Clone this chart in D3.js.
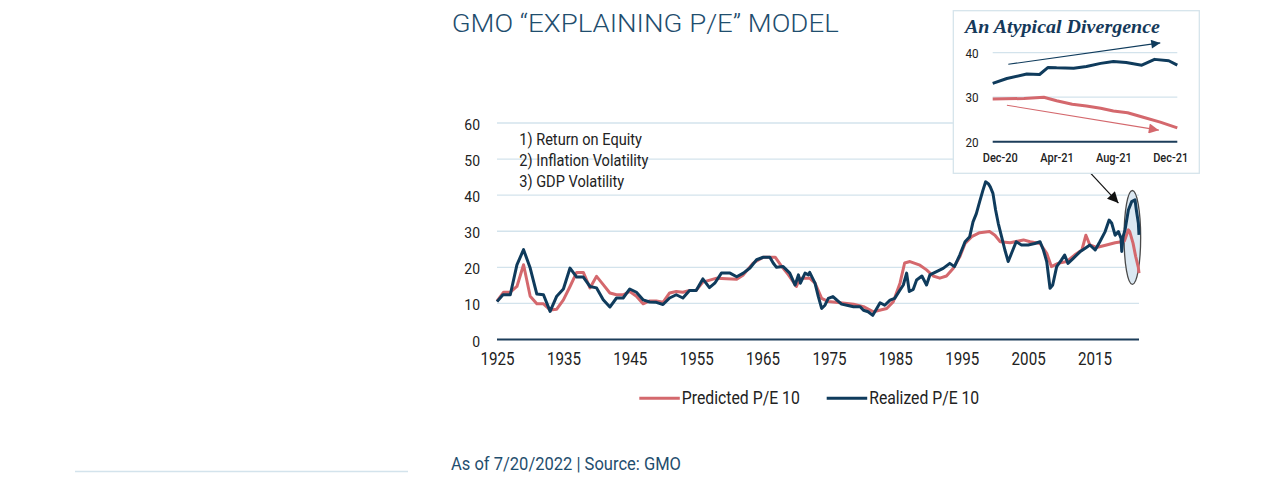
<!DOCTYPE html>
<html>
<head>
<meta charset="utf-8">
<script src="https://cdn.jsdelivr.net/npm/d3@7"></script>
<style>
  body { margin: 0; background: #fff; }
  text { font-family: Roboto, "Noto Sans", sans-serif; }
</style>
</head>
<body>
<svg id="chart"></svg>
<script>
// ---- data ----
let realYears = [1925.0, 1925.9, 1927.0, 1928.0, 1929.0, 1930.0, 1931.0, 1932.0, 1933.0, 1934.0,
  1935.0, 1936.0, 1937.0, 1938.0, 1939.0, 1940.0, 1941.0, 1942.0, 1943.0, 1944.0,
  1945.0, 1946.0, 1947.0, 1948.0, 1949.0, 1950.0, 1951.0, 1952.0, 1953.0, 1954.0,
  1955.0, 1956.0, 1957.0, 1957.8, 1958.8, 1960.1, 1961.1, 1962.1, 1963.1, 1964.1,
  1965.1, 1966.1, 1966.6, 1967.1, 1968.1, 1969.1, 1969.9, 1970.4, 1970.7, 1971.4,
  1971.9, 1972.1, 1972.9, 1973.4, 1973.9, 1974.4, 1974.9, 1975.6, 1976.2, 1976.9,
  1977.7, 1978.7, 1979.7, 1980.2, 1980.9, 1981.6, 1982.2, 1982.7, 1983.4, 1984.2,
  1984.9, 1985.7, 1986.2, 1986.7, 1987.1, 1987.7, 1988.2, 1989.0, 1989.7, 1990.2,
  1991.2, 1992.2, 1993.2, 1993.9, 1994.7, 1995.5, 1996.2, 1996.7, 1997.2, 1997.7,
  1998.2, 1998.6, 1999.0, 1999.3, 1999.7, 2000.1, 2000.5, 2001.0, 2001.5, 2002.0,
  2002.5, 2003.2, 2004.0, 2005.0, 2006.0, 2006.8, 2007.3, 2007.8, 2008.3, 2008.7,
  2009.3, 2010.0, 2010.5, 2011.0, 2011.8, 2012.8, 2013.6, 2014.3, 2015.1, 2015.8,
  2016.6, 2017.2, 2017.6, 2018.1, 2018.6, 2019.0, 2019.1, 2019.3, 2019.6, 2020.1,
  2020.6, 2021.1, 2021.3, 2021.6, 2021.7];
let realValues = [10.5, 12.4, 12.4, 20.7, 24.9, 19.8, 12.6, 12.4, 7.8, 12.0,
  14.0, 19.8, 17.3, 17.3, 14.7, 14.3, 11.0, 9.0, 11.5, 11.5,
  14.0, 13.1, 11.0, 10.4, 10.3, 9.7, 11.5, 12.4, 11.5, 13.6,
  13.6, 16.8, 14.4, 15.6, 18.4, 18.4, 17.4, 18.4, 19.8, 22.1,
  22.8, 22.8, 21.2, 20.0, 20.2, 18.4, 15.1, 17.9, 15.6, 18.4,
  17.9, 18.6, 15.6, 11.9, 8.6, 9.5, 11.4, 11.9, 10.9, 9.8,
  9.5, 9.1, 9.1, 8.1, 7.7, 6.7, 8.6, 10.2, 9.5, 10.9,
  11.4, 13.7, 15.1, 18.4, 13.3, 13.9, 16.5, 17.6, 15.1, 17.9,
  18.8, 19.7, 21.1, 20.2, 23.4, 27.1, 28.5, 32.6, 34.9, 38.2,
  41.4, 43.7, 43.2, 42.3, 40.5, 35.9, 32.2, 28.5, 24.8, 21.6,
  23.9, 27.1, 26.2, 26.2, 26.6, 27.1, 24.8, 21.6, 14.2, 15.1,
  20.2, 22.0, 23.4, 21.1, 22.5, 24.3, 25.3, 26.2, 24.8, 27.1,
  29.9, 33.1, 32.2, 28.9, 29.9, 28.0, 24.4, 28.5, 30.4, 35.9,
  38.2, 38.7, 35.9, 32.3, 29.0];

let predYears = [1925.0, 1926.0, 1927.0, 1928.0, 1929.0, 1930.0, 1931.0, 1932.0, 1933.0, 1934.0,
  1935.0, 1936.0, 1937.0, 1938.0, 1939.0, 1940.0, 1941.0, 1942.0, 1943.0, 1944.0,
  1945.0, 1946.0, 1947.0, 1948.0, 1949.0, 1950.0, 1951.0, 1952.0, 1953.0, 1954.0,
  1955.0, 1956.0, 1958.1, 1961.1, 1962.1, 1963.6, 1965.1, 1966.9, 1967.9, 1968.9,
  1970.1, 1970.6, 1972.1, 1972.9, 1973.9, 1974.9, 1976.7, 1978.7, 1980.2, 1981.7,
  1983.7, 1984.7, 1985.7, 1986.4, 1987.2, 1988.7, 1989.7, 1990.7, 1991.7, 1992.7,
  1993.7, 1994.7, 1995.5, 1996.5, 1997.7, 1999.2, 2000.0, 2000.8, 2002.3, 2004.3,
  2005.3, 2006.8, 2007.8, 2008.5, 2009.5, 2010.8, 2012.0, 2013.1, 2013.7, 2014.3,
  2015.3, 2016.8, 2018.1, 2019.1, 2019.5, 2020.1, 2020.3, 2020.8, 2021.2, 2021.6,
  2021.7];
let predValues = [10.6, 13.1, 13.1, 14.7, 20.7, 12.0, 9.9, 9.9, 8.2, 8.4,
  11.0, 14.7, 18.6, 18.6, 14.3, 17.5, 15.2, 12.9, 12.4, 12.4,
  13.3, 12.0, 9.9, 10.7, 10.7, 10.3, 12.9, 13.3, 13.1, 13.6,
  13.6, 15.9, 17.0, 16.7, 17.9, 21.2, 22.8, 22.8, 20.2, 17.9,
  14.7, 17.0, 17.0, 15.6, 11.4, 10.5, 10.2, 9.8, 9.1, 7.7,
  8.6, 10.5, 15.6, 21.2, 21.6, 20.6, 19.3, 17.6, 17.0, 17.6,
  19.7, 22.9, 26.6, 28.5, 29.6, 29.9, 28.9, 27.1, 26.8, 27.6,
  27.1, 26.6, 23.9, 20.2, 21.1, 21.6, 23.4, 24.8, 28.9, 26.2,
  25.5, 26.2, 26.8, 27.1, 27.3, 30.4, 29.9, 26.7, 23.0, 20.0,
  18.4];

let yearTicks = [1925, 1935, 1945, 1955, 1965, 1975, 1985, 1995, 2005, 2015];
let valueTicks = [0, 10, 20, 30, 40, 50, 60];
let drivers = ["1) Return on Equity", "2) Inflation Volatility", "3) GDP Volatility"];
let seriesNames = ["Predicted P/E 10", "Realized P/E 10"];

// inset: months from Dec-20 (0) to Dec-21 (12)
let insetRealMonths = [-0.5, 0.5, 1.9, 2.8, 3.4, 4.0, 5.2, 6.1, 7.1, 8.0, 8.9, 10.0, 10.9, 11.9, 12.5];
let insetRealValues = [33.1, 34.2, 35.2, 35.1, 36.7, 36.6, 36.5, 36.9, 37.6, 38.0, 37.8, 37.2, 38.5, 38.2, 37.2];
let insetPredMonths = [-0.5, 1.7, 3.1, 4.0, 5.1, 6.1, 7.1, 8.0, 9.0, 10.1, 11.3, 12.5];
let insetPredValues = [29.6, 29.7, 30.0, 29.2, 28.4, 28.0, 27.5, 26.9, 26.5, 25.5, 24.4, 23.1];
let insetTicks = [0, 4, 8, 12];
let insetTickLabels = ["Dec-20", "Apr-21", "Aug-21", "Dec-21"];
let insetValueTicks = [20, 30, 40];

// ---- look ----
let width = 1275;
let height = 486;
let navy = "#0f3b5c";
let red = "#d4686d";
let grid = "#d3e3ec";
let blueText = "#1f4e6e";

let svg = d3.select("#chart").attr("width", width).attr("height", height);
svg.append("rect").attr("width", width).attr("height", height).attr("fill", "#fff");

// squeeze text so Roboto reads like the condensed face of the original
let condense = (sel, k) => {
  sel.each(function () {
    let w = this.getComputedTextLength();
    d3.select(this).attr("textLength", w * k).attr("lengthAdjust", "spacingAndGlyphs");
  });
};
let fitTo = (sel, w) => sel.attr("textLength", w).attr("lengthAdjust", "spacingAndGlyphs");

let defs = svg.append("defs");
let addHead = (id, color, len, wid) => {
  defs.append("marker")
    .attr("id", id)
    .attr("markerUnits", "userSpaceOnUse")
    .attr("viewBox", "0 0 10 10")
    .attr("refX", 10).attr("refY", 5)
    .attr("markerWidth", len).attr("markerHeight", wid)
    .attr("orient", "auto")
    .append("path").attr("d", "M0,0 L10,5 L0,10 Z").attr("fill", color);
};
addHead("headBlack", "#111", 13, 11);
addHead("headNavy", navy, 12, 9);
addHead("headRed", red, 14, 10);

// ---- main chart ----
let xScale = d3.scaleLinear().domain([1925, 2021.7]).range([497, 1139]);
let yScale = d3.scaleLinear().domain([0, 60]).range([339.5, 123]);

svg.append("text")
  .attr("x", 451.7).attr("y", 31.7)
  .attr("font-size", 26.5).attr("font-weight", 300)
  .attr("fill", blueText)
  .text("GMO \u201cEXPLAINING P/E\u201d MODEL")
  .call(fitTo, 387);

svg.append("g")
  .selectAll("line")
  .data(valueTicks.filter(d => d > 0))
  .enter()
  .append("line")
  .attr("x1", xScale(1925)).attr("x2", xScale(2021.7))
  .attr("y1", d => yScale(d)).attr("y2", d => yScale(d))
  .attr("stroke", grid).attr("stroke-width", 1.3);

let yAxis = d3.axisLeft(yScale).tickValues(valueTicks).tickSize(0).tickPadding(17);
let yg = svg.append("g").attr("transform", "translate(" + xScale(1925) + ",0)").call(yAxis);
yg.select(".domain").remove();
yg.selectAll("text").attr("font-size", 15.5).attr("fill", "#222").attr("dy", "0.42em")
  .style("font-family", "Roboto").call(condense, 0.9);

let xAxis = d3.axisBottom(xScale).tickValues(yearTicks).tickFormat(d3.format("d")).tickSize(0).tickPadding(12);
let xg = svg.append("g").attr("transform", "translate(0," + yScale(0) + ")").call(xAxis);
xg.select(".domain").remove();
xg.selectAll("text").attr("font-size", 17.5).attr("fill", "#222").attr("dy", "0.75em")
  .style("font-family", "Roboto").call(condense, 0.865);

svg.append("line")
  .attr("x1", xScale(1925)).attr("x2", xScale(2021.7))
  .attr("y1", yScale(0)).attr("y2", yScale(0))
  .attr("stroke", "#1c3d5a").attr("stroke-width", 2);

svg.append("g")
  .selectAll("text")
  .data(drivers)
  .enter()
  .append("text")
  .attr("x", 519.3)
  .attr("y", (d, i) => 145 + i * 21.2)
  .attr("font-size", 16.2).attr("fill", "#222")
  .text(d => d)
  .call(condense, 0.9);

// highlighted recent stretch
svg.append("ellipse")
  .attr("cx", xScale(2020.7)).attr("cy", yScale(28.3))
  .attr("rx", xScale(2021.95) - xScale(2020.7))
  .attr("ry", yScale(15.3) - yScale(28.3))
  .attr("fill", "#dbe8f2").attr("stroke", "#4a4a4a").attr("stroke-width", 1.3);

let line = d3.line().x(d => xScale(d[0])).y(d => yScale(d[1]));

svg.append("path")
  .datum(d3.zip(predYears, predValues))
  .attr("d", line)
  .attr("fill", "none").attr("stroke", red).attr("stroke-width", 3).attr("stroke-linejoin", "round");

svg.append("path")
  .datum(d3.zip(realYears, realValues))
  .attr("d", line)
  .attr("fill", "none").attr("stroke", navy).attr("stroke-width", 3).attr("stroke-linejoin", "round");

svg.append("line")
  .attr("x1", xScale(2014.3)).attr("y1", yScale(46.3))
  .attr("x2", xScale(2018.6)).attr("y2", yScale(37.8))
  .attr("stroke", "#111").attr("stroke-width", 1.2)
  .attr("marker-end", "url(#headBlack)");

// legend
let legend = svg.append("g");
let legendX = [639.3, 826.7];
let legendColors = [red, navy];
let legendWidths = [118, 110];
seriesNames.forEach((name, i) => {
  legend.append("line")
    .attr("x1", legendX[i]).attr("x2", legendX[i] + 40.5)
    .attr("y1", 398.3).attr("y2", 398.3)
    .attr("stroke", legendColors[i]).attr("stroke-width", 3);
  legend.append("text")
    .attr("x", legendX[i] + 42.5).attr("y", 404.3)
    .attr("font-size", 17.8).attr("fill", "#222")
    .text(name)
    .call(fitTo, legendWidths[i]);
});

// footer
svg.append("line")
  .attr("x1", 75).attr("x2", 408).attr("y1", 471.5).attr("y2", 471.5)
  .attr("stroke", grid).attr("stroke-width", 1.3);
svg.append("text")
  .attr("x", 451).attr("y", 469.5)
  .attr("font-size", 17.8).attr("fill", blueText)
  .text("As of 7/20/2022 | Source: GMO")
  .call(fitTo, 230);

// ---- inset ----
let inset = svg.append("g");
inset.append("rect")
  .attr("x", 953.3).attr("y", 10.7).attr("width", 246).attr("height", 162.6)
  .attr("fill", "#fff").attr("stroke", "#d6e4ec").attr("stroke-width", 1.3);

inset.append("text")
  .attr("x", 965).attr("y", 33)
  .style("font-family", "'Liberation Serif', 'DejaVu Serif', serif")
  .attr("font-size", 18).attr("font-weight", 700).attr("font-style", "italic")
  .attr("fill", "#15395a")
  .text("An Atypical Divergence")
  .call(fitTo, 195);

let mScale = d3.scaleLinear().domain([-0.5, 12.5]).range([992.7, 1177.3]);
let vScale = d3.scaleLinear().domain([20, 40]).range([141.7, 52.7]);

inset.append("g")
  .selectAll("line")
  .data(insetValueTicks.filter(d => d > 20))
  .enter()
  .append("line")
  .attr("x1", mScale(-0.5)).attr("x2", mScale(12.5))
  .attr("y1", d => vScale(d)).attr("y2", d => vScale(d))
  .attr("stroke", grid).attr("stroke-width", 1.2);

let ivAxis = d3.axisLeft(vScale).tickValues(insetValueTicks).tickSize(0).tickPadding(14);
let ivg = inset.append("g").attr("transform", "translate(" + mScale(-0.5) + ",0)").call(ivAxis);
ivg.select(".domain").remove();
ivg.selectAll("text").attr("font-size", 13).attr("fill", "#222").attr("dy", "0.36em")
  .style("font-family", "Roboto").call(condense, 0.9);

let imAxis = d3.axisBottom(mScale).tickValues(insetTicks).tickFormat((d, i) => insetTickLabels[i]).tickSize(0).tickPadding(11);
let img = inset.append("g").attr("transform", "translate(0," + vScale(20) + ")").call(imAxis);
img.select(".domain").remove();
img.selectAll("text").attr("font-size", 12.8).attr("font-weight", 500).attr("fill", "#222").attr("dy", "0.72em")
  .style("font-family", "Roboto").call(condense, 0.86);

inset.append("line")
  .attr("x1", mScale(-0.5)).attr("x2", mScale(12.5))
  .attr("y1", vScale(20)).attr("y2", vScale(20))
  .attr("stroke", "#1c3d5a").attr("stroke-width", 2);

let insetLine = d3.line().x(d => mScale(d[0])).y(d => vScale(d[1]));
inset.append("path")
  .datum(d3.zip(insetPredMonths, insetPredValues))
  .attr("d", insetLine)
  .attr("fill", "none").attr("stroke", red).attr("stroke-width", 3).attr("stroke-linejoin", "round");
inset.append("path")
  .datum(d3.zip(insetRealMonths, insetRealValues))
  .attr("d", insetLine)
  .attr("fill", "none").attr("stroke", navy).attr("stroke-width", 3).attr("stroke-linejoin", "round");

inset.append("line")
  .attr("x1", mScale(0.6)).attr("y1", vScale(37.4))
  .attr("x2", mScale(11.3)).attr("y2", vScale(42.2))
  .attr("stroke", navy).attr("stroke-width", 1.1)
  .attr("marker-end", "url(#headNavy)");
inset.append("line")
  .attr("x1", mScale(0.5)).attr("y1", vScale(28.2))
  .attr("x2", mScale(11.2)).attr("y2", vScale(22.6))
  .attr("stroke", red).attr("stroke-width", 1.1)
  .attr("marker-end", "url(#headRed)");
</script>
</body>
</html>
